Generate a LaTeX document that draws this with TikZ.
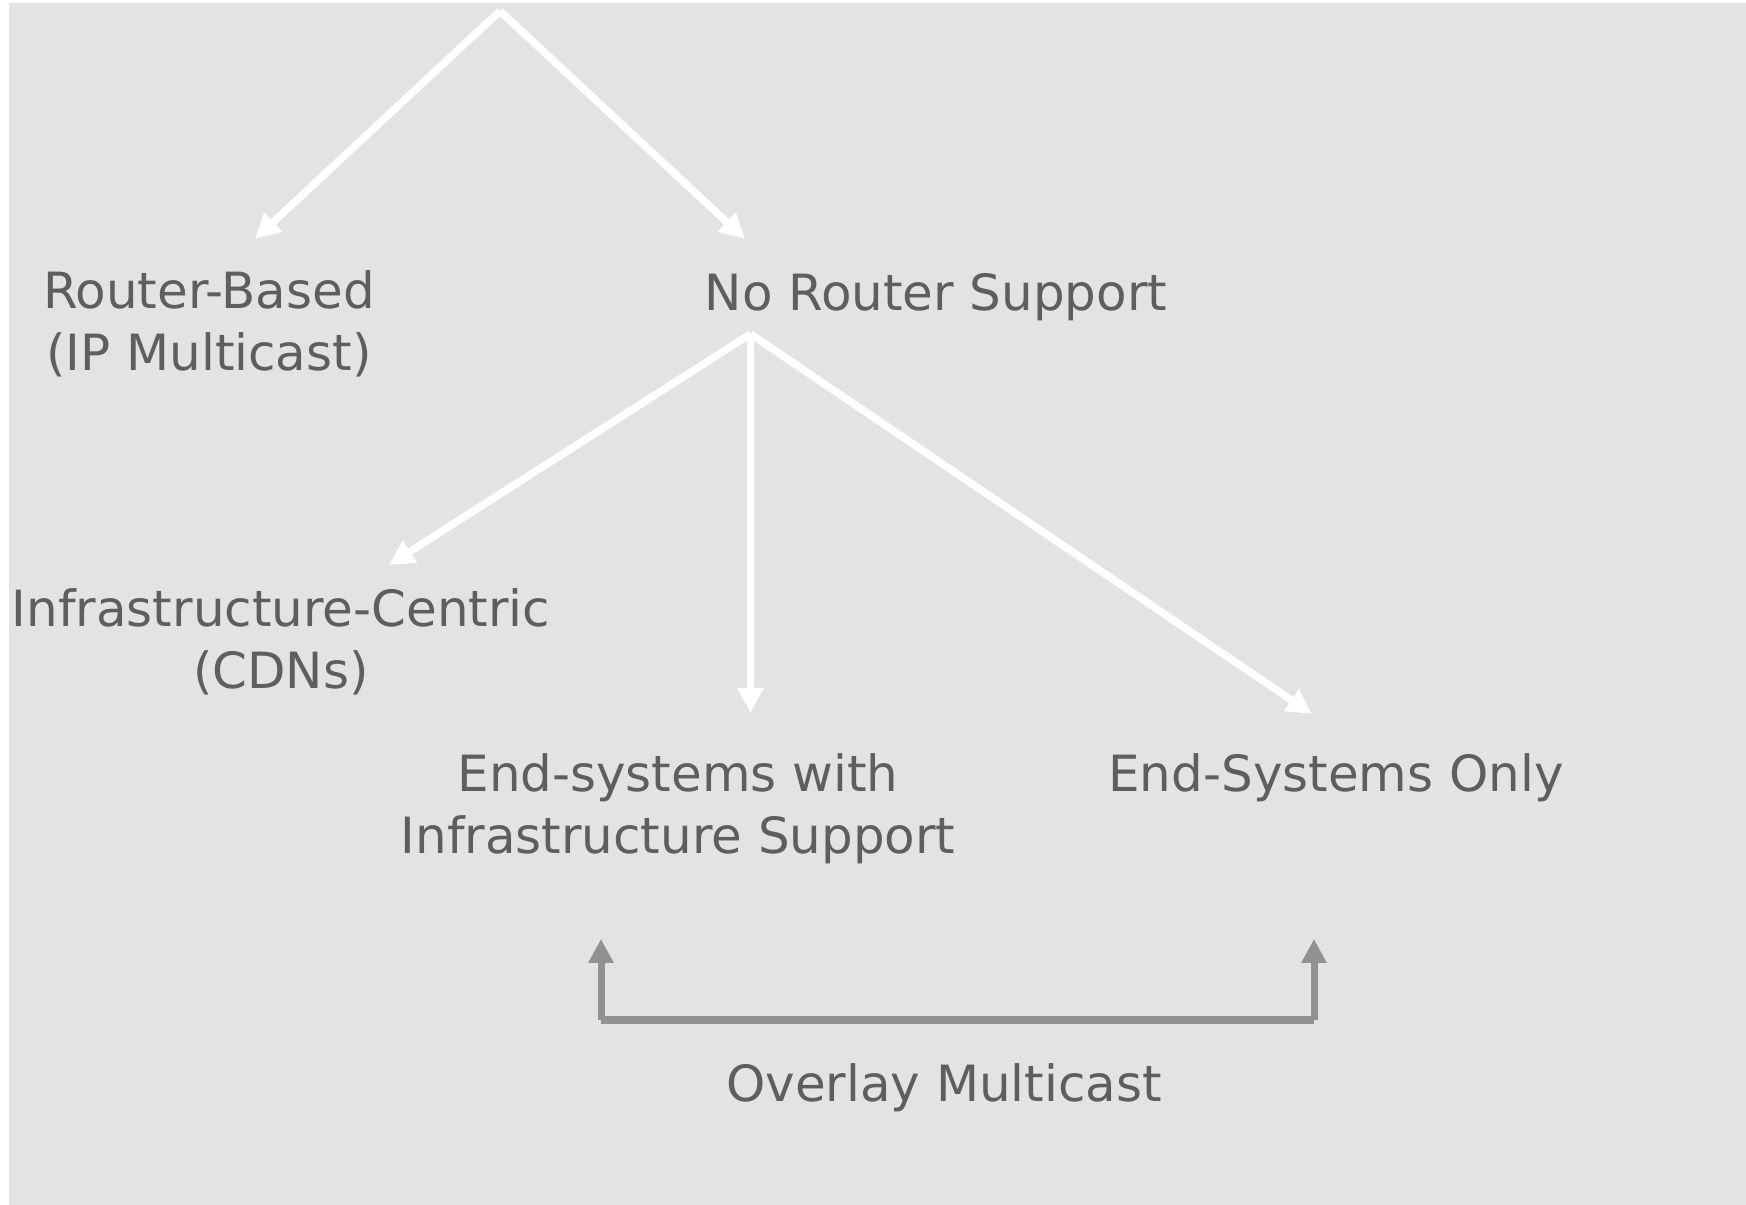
\documentclass[tikz,border=0pt]{standalone}
\usepackage{fontspec}
\setmainfont{DejaVu Sans}
\usetikzlibrary{arrows.meta}
\definecolor{dddddd}{rgb}{0.89,0.89,0.89}
\definecolor{wwwwww}{rgb}{0.37,0.37,0.37}
\definecolor{cqcqcq}{rgb}{0.57,0.57,0.57}
\tikzset{
	lbl/.style={text=wwwwww, align=center, inner sep=0pt, font=\fontsize{14.2}{17.6}\selectfont},
	wline/.style={white, line width=0.75mm, -{Triangle[length=2.5mm,width=2.5mm]}},
	gline/.style={cqcqcq, line width=0.7mm, -{Triangle[length=2.4mm,width=2.4mm]}}
}
\begin{document}
\begin{tikzpicture}[x=1.0cm,y=1.0cm]
			\useasboundingbox (0,0) rectangle (17.46,-12.05);
			\fill [dddddd] (0.09,-0.03) rectangle (17.46,-12.05);
			% labels
			\node [lbl] (rb) at (2.09,-3.24) {Router-Based\\(IP Multicast)};
			\node [lbl, anchor=base] (nrs) at (9.36,-3.11) {No Router Support};
			\node [lbl] (ic) at (2.81,-6.42) {Infrastructure-Centric\\(CDNs)};
			\node [lbl] (esi) at (6.78,-8.09) {End-systems with\\Infrastructure Support};
			\node [lbl, anchor=base] (eso) at (13.36,-7.92) {End-Systems Only};
			\node [lbl, anchor=base] (om) at (9.44,-11.02) {Overlay Multicast};
			% branch points and arrow ends
			\coordinate (top) at (5.00,-0.11);
			\coordinate (mid) at (7.505,-3.34);
			\coordinate (rbend) at (2.55,-2.39);
			\coordinate (nrsend) at (7.45,-2.39);
			\coordinate (icend) at (3.89,-5.65);
			\coordinate (esiend) at (7.505,-7.13);
			\coordinate (esoend) at (13.12,-7.14);
			\coordinate (lfoot) at (6.01,-10.20);
			\coordinate (rfoot) at (13.14,-10.20);
			\coordinate (lhead) at (6.01,-9.39);
			\coordinate (rhead) at (13.14,-9.39);
			\draw [wline] (top) -- (rbend);
			\draw [wline] (top) -- (nrsend);
			\draw [wline] (mid) -- (icend);
			\draw [wline] (mid) -- (esiend);
			\draw [wline] (mid) -- (esoend);
			\draw [cqcqcq, line width=0.8mm] (lfoot) -- (rfoot);
			\draw [gline] (lfoot) -- (lhead);
			\draw [gline] (rfoot) -- (rhead);
\end{tikzpicture}
\end{document}
